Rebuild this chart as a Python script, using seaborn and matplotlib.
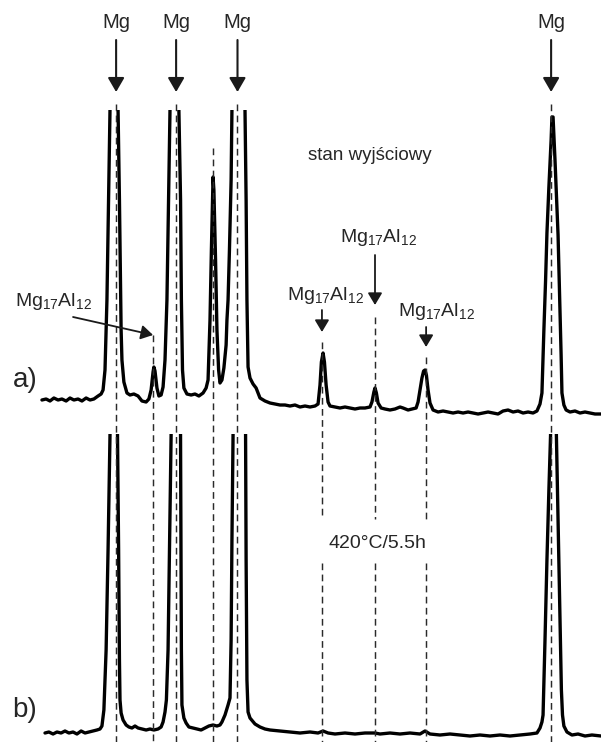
import matplotlib
matplotlib.use("Agg")
import matplotlib.pyplot as plt
import numpy as np
import pandas as pd
import seaborn as sns

sns.set_style("white")
plt.rcParams["font.family"] = ["Liberation Sans", "DejaVu Sans"]
plt.rcParams["mathtext.fontset"] = "custom"
plt.rcParams["mathtext.rm"] = "Liberation Sans"
plt.rcParams["mathtext.it"] = "Liberation Sans:italic"

# ---------------- data (2theta in degrees, intensity in a.u.) ----------------
two_theta_a = [29.51, 29.66, 29.80, 29.94, 30.09, 30.23, 30.38, 30.52, 30.66, 30.81,
               30.95, 31.10, 31.24, 31.38, 31.53, 31.64, 31.71, 31.78, 31.85, 31.91,
               31.96, 32.00, 32.21, 32.25, 32.30, 32.36, 32.39, 32.46, 32.57, 32.68,
               32.82, 32.97, 33.11, 33.26, 33.36, 33.44, 33.51, 33.54, 33.58, 33.65,
               33.72, 33.80, 33.87, 33.94, 34.01, 34.07, 34.12, 34.16, 34.41, 34.44,
               34.50, 34.53, 34.57, 34.62, 34.73, 34.88, 35.02, 35.16, 35.31, 35.42,
               35.49, 35.56, 35.61, 35.67, 35.70, 35.76, 35.81, 35.87, 35.92, 35.99,
               36.06, 36.14, 36.17, 36.21, 36.26, 36.32, 36.35, 36.39, 36.78, 36.82,
               36.86, 36.89, 36.93, 37.00, 37.11, 37.22, 37.36, 37.54, 37.72, 37.90,
               38.08, 38.26, 38.44, 38.62, 38.80, 38.98, 39.16, 39.34, 39.45, 39.52,
               39.57, 39.63, 39.68, 39.74, 39.81, 39.88, 40.06, 40.24, 40.42, 40.60,
               40.78, 40.96, 41.14, 41.32, 41.39, 41.46, 41.50, 41.55, 41.61, 41.72,
               41.86, 42.04, 42.22, 42.40, 42.51, 42.69, 42.83, 42.98, 43.05, 43.12,
               43.19, 43.25, 43.30, 43.35, 43.41, 43.48, 43.59, 43.77, 43.95, 44.13,
               44.31, 44.49, 44.67, 44.85, 45.03, 45.21, 45.39, 45.57, 45.75, 45.93,
               46.11, 46.29, 46.47, 46.65, 46.83, 47.01, 47.19, 47.33, 47.44, 47.51,
               47.58, 47.64, 47.69, 47.76, 47.84, 47.87, 47.91, 47.98, 48.09, 48.16,
               48.20, 48.23, 48.30, 48.38, 48.52, 48.70, 48.88, 49.06, 49.24, 49.42,
               49.64]
intensity_a = [20, 21, 19, 22, 20, 21, 19, 22, 20, 21,
               19, 22, 20, 21, 24, 26, 30, 50, 120, 220,
               310, 420, 420, 310, 220, 90, 60, 38, 27, 25,
               26, 24, 19, 18, 21, 30, 48, 53, 49, 32,
               24, 25, 33, 60, 120, 220, 310, 420, 420, 310,
               220, 120, 50, 32, 26, 25, 26, 24, 27, 32,
               40, 100, 170, 243, 230, 160, 90, 50, 37, 40,
               52, 75, 100, 120, 170, 240, 310, 420, 420, 310,
               220, 120, 53, 42, 36, 32, 22, 19, 17, 16,
               15, 15, 14, 15, 13, 14, 13, 14, 16, 35,
               58, 67, 58, 35, 18, 14, 13, 12, 13, 12,
               11, 12, 12, 13, 18, 28, 32, 27, 17, 12,
               11, 10, 11, 13, 12, 10, 11, 12, 18, 30,
               42, 49, 50, 45, 30, 17, 10, 8, 9, 8,
               7, 8, 7, 8, 7, 6, 7, 8, 7, 6,
               9, 10, 8, 9, 7, 8, 7, 9, 16, 27,
               90, 139, 187, 233, 280, 303, 303, 260, 185, 110,
               65, 27, 15, 10, 8, 9, 7, 8, 7, 6,
               6]

two_theta_b = [29.62, 29.76, 29.91, 30.05, 30.20, 30.34, 30.48, 30.63, 30.77, 30.92,
               31.06, 31.20, 31.35, 31.49, 31.60, 31.67, 31.74, 31.82, 31.89, 31.96,
               31.98, 32.21, 32.23, 32.27, 32.30, 32.32, 32.36, 32.43, 32.54, 32.64,
               32.75, 32.86, 32.97, 33.11, 33.26, 33.40, 33.54, 33.69, 33.80, 33.87,
               33.94, 33.99, 34.05, 34.10, 34.16, 34.17, 34.48, 34.50, 34.52, 34.53,
               34.55, 34.62, 34.70, 34.80, 34.95, 35.09, 35.24, 35.38, 35.52, 35.67,
               35.81, 35.92, 35.99, 36.10, 36.21, 36.28, 36.32, 36.35, 36.39, 36.41,
               36.82, 36.84, 36.86, 36.89, 36.93, 37.00, 37.18, 37.36, 37.54, 37.72,
               38.08, 38.44, 38.80, 39.16, 39.45, 39.63, 39.81, 40.06, 40.42, 40.78,
               41.14, 41.50, 41.68, 42.04, 42.40, 42.76, 43.12, 43.30, 43.48, 43.84,
               44.20, 44.56, 44.92, 45.28, 45.64, 46.00, 46.36, 46.72, 47.08, 47.33,
               47.44, 47.51, 47.55, 47.62, 47.69, 47.76, 47.82, 47.84, 48.02, 48.03,
               48.09, 48.16, 48.21, 48.25, 48.30, 48.41, 48.59, 48.81, 49.06, 49.31,
               49.64]
intensity_b = [9, 10, 8, 10, 9, 11, 9, 10, 8, 11,
               9, 10, 11, 12, 13, 16, 32, 92, 192, 307,
               442, 442, 307, 192, 82, 42, 29, 22, 17, 15,
               14, 16, 14, 13, 12, 13, 12, 13, 15, 20,
               30, 42, 92, 192, 307, 442, 442, 307, 192, 92,
               37, 24, 19, 15, 14, 13, 12, 14, 16, 17,
               16, 17, 20, 27, 37, 44, 102, 202, 307, 442,
               442, 307, 182, 62, 30, 24, 18, 15, 13, 12,
               11, 10, 9, 10, 9, 11, 9, 8, 9, 8,
               9, 9, 8, 9, 8, 9, 8, 11, 8, 7,
               8, 7, 6, 7, 6, 7, 6, 7, 8, 9,
               14, 20, 27, 102, 182, 252, 307, 442, 442, 307,
               222, 122, 52, 27, 16, 10, 7, 8, 6, 7,
               6]

mg_peaks = [32.18, 34.34, 36.55, 47.84]
mg17al12_peaks = [33.51, 35.67, 39.59, 41.50, 43.34]
mg_label = "Mg"
phase_label = r"Mg$_{17}$Al$_{12}$"
state_a_label = "stan wyjściowy"
state_b_label = "420°C/5.5h"
panel_labels = ["a)", "b)"]

# ---------------- layout ----------------
XLIM = (28.0, 49.636)
H = 742
TXT = "#262626"
ARR = "#1a1a1a"

fig = plt.figure(figsize=(6.01, 7.42), dpi=100)


def rows_rect(top, bottom):
    return [0.0, (H - bottom) / H, 1.0, (bottom - top) / H]


ax_a = fig.add_axes(rows_rect(110, 430))
ax_b = fig.add_axes(rows_rect(434, 742))
ov = fig.add_axes([0, 0, 1, 1])
for ax in (ax_a, ax_b, ov):
    ax.set_xlim(XLIM)
    ax.patch.set_alpha(0)
    ax.axis("off")
ov.set_ylim(H, 0)

df_a = pd.DataFrame({"two_theta": two_theta_a, "intensity": intensity_a})
df_b = pd.DataFrame({"two_theta": two_theta_b, "intensity": intensity_b})
sns.lineplot(data=df_a, x="two_theta", y="intensity", ax=ax_a, color="black",
             lw=2.4, estimator=None, sort=False)
sns.lineplot(data=df_b, x="two_theta", y="intensity", ax=ax_b, color="black",
             lw=2.4, estimator=None, sort=False)
ax_a.set_ylim(-10, 310)
ax_b.set_ylim(0, 308)
for ax in (ax_a, ax_b):
    ax.set_xlim(XLIM)
    ax.axis("off")

# dashed reference lines
dash_kw = dict(colors="#2a2a2a", linewidth=1.05, linestyles=(0, (4.6, 3.0)))
for x in mg_peaks:
    ov.vlines(x, 104, H, **dash_kw)
mg17_tops = [335, 148, 342, 317, 357]
gap = (519, 563)
for i, (x, top) in enumerate(zip(mg17al12_peaks, mg17_tops)):
    if i >= 2:
        ov.vlines(x, top, gap[0], **dash_kw)
        ov.vlines(x, gap[1], H, **dash_kw)
    else:
        ov.vlines(x, top, H, **dash_kw)

big_arrow = dict(arrowstyle="-|>,head_length=0.86,head_width=0.5", color=ARR,
                 lw=1.5, shrinkA=0, shrinkB=0, mutation_scale=10)
small_arrow = dict(arrowstyle="-|>,head_length=0.72,head_width=0.43", color=ARR,
                   lw=1.3, shrinkA=0, shrinkB=0, mutation_scale=10)

# Mg labels and arrows
for x in mg_peaks:
    ov.annotate("", xy=(x, 92), xytext=(x, 40), arrowprops=big_arrow)
    ov.text(x, 23, mg_label, ha="center", va="center", fontsize=14.5, color=TXT)

# Mg17Al12 labels and arrows
ov.annotate("", xy=(mg17al12_peaks[0], 335), xytext=(30.63, 317), arrowprops=small_arrow)
ov.text(29.91, 302, phase_label, ha="center", va="center", fontsize=14, color=TXT)

specs = [(2, 39.70, 296, 310, 332), (3, 41.61, 238, 255, 305), (4, 43.73, 312, 327, 347)]
for idx, tx, ty, y0, y1 in specs:
    x = mg17al12_peaks[idx]
    ov.annotate("", xy=(x, y1), xytext=(x, y0), arrowprops=small_arrow)
    ov.text(tx, ty, phase_label, ha="center", va="center", fontsize=14, color=TXT)

ov.text(41.32, 155, state_a_label, ha="center", va="center", fontsize=13.5, color=TXT)
ov.text(41.57, 544, state_b_label, ha="center", va="center", fontsize=14, color=TXT)
ov.text(28.9, 380, panel_labels[0], ha="center", va="center", fontsize=20, color=TXT)
ov.text(28.9, 710, panel_labels[1], ha="center", va="center", fontsize=20, color=TXT)

fig.savefig("out.png", dpi=100, facecolor="white")
